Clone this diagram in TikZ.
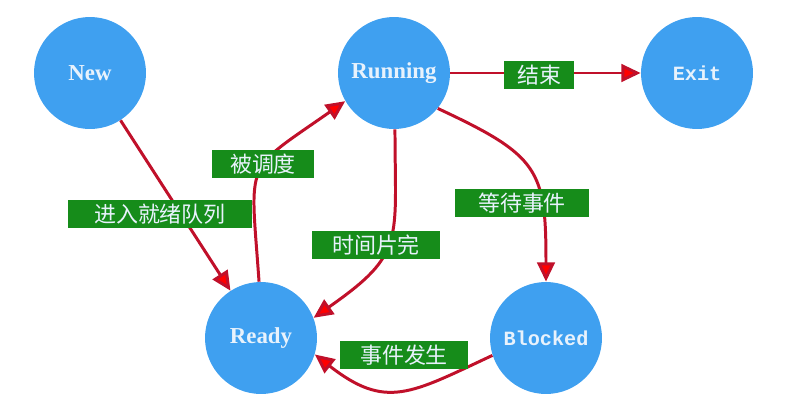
\documentclass[tikz,border=0pt]{standalone}
\usepackage{fontspec}
\setmainfont{Liberation Serif}
\setmonofont{Liberation Mono}
\newfontfamily\cjk{Noto Sans CJK SC}
\usetikzlibrary{arrows.meta}
\definecolor{stateblue}{HTML}{3FA0F0}
\definecolor{labelgreen}{HTML}{168C1A}
\definecolor{edgered}{HTML}{C0102A}
\definecolor{statetext}{HTML}{E8F2FC}

\begin{document}
\begin{tikzpicture}[x=0.02cm,y=-0.02cm,
  state/.style={circle,fill=stateblue,minimum size=2.24cm,inner sep=0pt,text=statetext},
  serifname/.style={font=\fontsize{13}{15}\selectfont\bfseries},
  mononame/.style={font=\fontsize{11.5}{14}\selectfont\ttfamily\bfseries},
  edge/.style={draw=edgered,line width=1.7pt,-{Triangle[length=11pt,width=10pt,fill=red]}},
  lbl/.style={fill=labelgreen,text=statetext,font=\cjk\fontsize{12.5}{14}\selectfont,
    inner xsep=4pt,inner ysep=0pt,minimum height=15.9pt}]
\useasboundingbox (0,0) rectangle (812,419);

\node[state,serifname] (new) at (90,73) {New};
\node[state,serifname] (running) at (394,73) {Running};
\node[state,mononame] (exit) at (697,73) {Exit};
\node[state,serifname] (ready) at (261,338) {Ready};
\node[state,mononame] (blocked) at (546,338) {Blocked};

\draw[edge] (new) -- (ready);
\draw[edge] (running) -- (exit);
\draw[edge] (ready.92) to[out=94,in=215,looseness=1.6] (running.210);
\draw[edge] (running.-89) to[out=-90,in=35,looseness=1.4] (ready.21);
\draw[edge] (running.-39) to[out=-25,in=90,looseness=1.4] (blocked.90);
\draw[edge] (blocked.198) to[out=205,in=-38,looseness=1.3] (ready.-17);

\node[lbl,minimum width=3.68cm] (enter) at (160,214) {进入就绪队列};
\node[lbl,minimum width=2.04cm] (sched) at (263,164) {被调度};
\node[lbl,minimum width=1.4cm] (finish) at (539,75) {结束};
\node[lbl,minimum width=2.56cm] (slice) at (376,245) {时间片完};
\node[lbl,minimum width=2.68cm] (wait) at (522,203) {等待事件};
\node[lbl,minimum width=2.56cm] (occur) at (404,355) {事件发生};
\end{tikzpicture}
\end{document}
